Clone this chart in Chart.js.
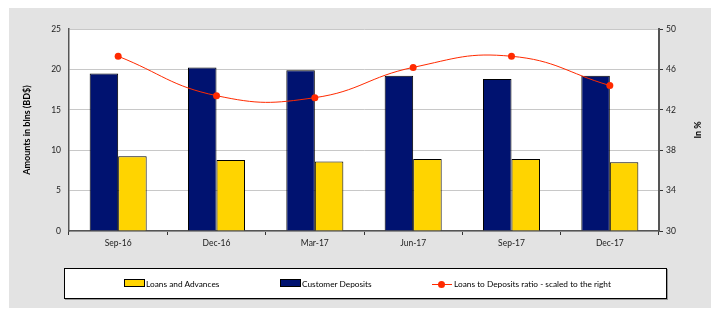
<!DOCTYPE html>
<html>
<head>
<meta charset="utf-8">
<script src="https://cdn.jsdelivr.net/npm/chart.js@4.4.1/dist/chart.umd.min.js"></script>
<style>
  html, body { margin: 0; padding: 0; background: #fff; }
  #wrap { position: relative; width: 711px; height: 309px; }
  #legend {
    position: absolute; left: 64px; top: 268px; width: 601px; height: 29px;
    background: #fff; border: 1px solid #000; box-shadow: 1px 1px 0 #999;
    font-family: Lato, "Open Sans", sans-serif; font-size: 8.3px; color: #000;
  }
  .item { position: absolute; top: 10px; white-space: nowrap; line-height: 10px; }
  .box { display: inline-block; width: 19px; height: 6px; border: 1px solid #000; vertical-align: 0px; margin-right: 1px; }
  .ln { display: inline-block; position: relative; width: 20px; height: 8px; vertical-align: -1px; margin-right: 2px; }
  .ln:before { content: ""; position: absolute; left: 0; right: 0; top: 4px; border-top: 1px solid #ff2a00; }
  .ln:after { content: ""; position: absolute; left: 6px; top: 1px; width: 7px; height: 7px; border-radius: 50%; background: #ff2a00; }
</style>
</head>
<body>
<div id="wrap">
  <canvas id="chart" width="711" height="309"></canvas>
  <div id="legend">
    <span class="item" style="left:59px"><span class="box" style="background:#ffd400"></span>Loans and Advances</span>
    <span class="item" style="left:215px"><span class="box" style="background:#001270"></span>Customer Deposits</span>
    <span class="item" style="left:367px"><span class="ln"></span>Loans to Deposits ratio - scaled to the right</span>
  </div>
</div>
<script>
// values
const quarters = ['Sep-16', 'Dec-16', 'Mar-17', 'Jun-17', 'Sep-17', 'Dec-17'];
const customerDeposits = [19.5, 20.25, 19.9, 19.2, 18.8, 19.2];
const loansAdvances = [9.25, 8.8, 8.6, 8.9, 8.9, 8.5];
const ldRatio = [47.3, 43.4, 43.2, 46.2, 47.3, 44.4];

const FONT = 'Lato, "Open Sans", sans-serif';

// grey frame + white plot area
const background = {
    id: 'background',
    beforeDraw(chart) {
        const ctx = chart.ctx;
        const a = chart.chartArea;
        ctx.save();
        ctx.fillStyle = '#e3e3e3';
        ctx.fillRect(9, 8, chart.width - 9, chart.height - 9);
        ctx.fillStyle = '#ffffff';
        ctx.fillRect(a.left, a.top, a.right - a.left, a.bottom - a.top);
        ctx.restore();
    }
};

// right axis title reads bottom-to-top like the left one
const rightTitle = {
    id: 'rightTitle',
    afterDraw(chart) {
        const ctx = chart.ctx;
        const a = chart.chartArea;
        ctx.save();
        ctx.translate(698, (a.top + a.bottom) / 2);
        ctx.rotate(-Math.PI / 2);
        ctx.font = 'bold 9px ' + FONT;
        ctx.fillStyle = '#000';
        ctx.textAlign = 'center';
        ctx.textBaseline = 'middle';
        ctx.fillText('In %', 0, 0);
        ctx.restore();
    }
};

new Chart(document.getElementById('chart'), {
    data: {
        labels: quarters,
        datasets: [
            {
                type: 'bar',
                label: 'Customer Deposits',
                data: customerDeposits,
                backgroundColor: '#001270',
                borderColor: '#000',
                borderWidth: 1,
                categoryPercentage: 0.58,
                barPercentage: 1,
                yAxisID: 'y',
                order: 2
            },
            {
                type: 'bar',
                label: 'Loans and Advances',
                data: loansAdvances,
                backgroundColor: '#ffd400',
                borderColor: '#000',
                borderWidth: 1,
                categoryPercentage: 0.58,
                barPercentage: 1,
                yAxisID: 'y',
                order: 2
            },
            {
                type: 'line',
                label: 'Loans to Deposits ratio - scaled to the right',
                data: ldRatio,
                borderColor: '#ff2a00',
                borderWidth: 1,
                backgroundColor: '#ff2a00',
                pointRadius: 3.5,
                pointBorderWidth: 0,
                tension: 0.45,
                yAxisID: 'y1',
                order: 0
            }
        ]
    },
    options: {
        responsive: false,
        animation: false,
        layout: { padding: { left: 18, right: 8, top: 29, bottom: 58 } },
        plugins: {
            legend: { display: false },
            tooltip: { enabled: false }
        },
        scales: {
            x: {
                offset: true,
                afterFit: s => { s.height = 20; },
                grid: { offset: true, drawOnChartArea: false, drawTicks: true, tickLength: 4, tickColor: '#333' },
                border: { color: '#555', width: 1.5 },
                ticks: { color: '#222', font: { family: FONT, size: 8.5 }, padding: 3, maxRotation: 0 }
            },
            y: {
                position: 'left',
                min: 0, max: 25,
                afterFit: s => { s.width = 51; },
                ticks: { stepSize: 5, color: '#222', font: { family: FONT, size: 8.5 }, padding: 8 },
                grid: { color: '#c8c8c8', drawTicks: false, lineWidth: 1 },
                border: { color: '#555', width: 1.5 },
                title: { display: true, text: 'Amounts in blns (BD$)', color: '#000', font: { family: FONT, size: 9, weight: 'bold' }, padding: { top: 4, bottom: 4 } }
            },
            y1: {
                position: 'right',
                min: 30, max: 50,
                afterFit: s => { s.width = 44; },
                ticks: { stepSize: 4, color: '#222', font: { family: FONT, size: 8.5 }, padding: 3 },
                grid: { drawOnChartArea: false, drawTicks: true, tickLength: 4, tickColor: '#333' },
                border: { color: '#555', width: 2 }
            }
        }
    },
    plugins: [background, rightTitle]
});
</script>
</body>
</html>
